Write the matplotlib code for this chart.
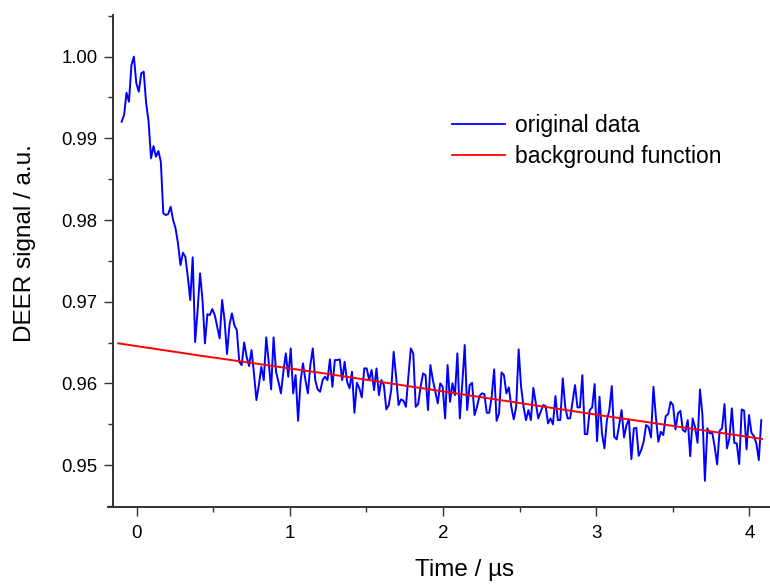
import numpy as np
import matplotlib
matplotlib.use("Agg")
import matplotlib.pyplot as plt
from matplotlib.ticker import MultipleLocator

# time axis of the measured trace (µs)
t_start = -0.098
t_step = 0.016

signal = [
    0.99203, 0.99285, 0.99558, 0.99448, 0.99898, 1.00000, 0.99674, 0.99571, 0.99796, 0.99816,
    0.99429, 0.99203, 0.98755, 0.98906, 0.98775, 0.98845, 0.98713, 0.98082, 0.98061, 0.98073,
    0.98162, 0.98000, 0.97898, 0.97714, 0.97448, 0.97599, 0.97550, 0.97305, 0.97020, 0.97543,
    0.96506, 0.96897, 0.97347, 0.97020, 0.96490, 0.96848, 0.96836, 0.96910, 0.96836, 0.96693,
    0.96551, 0.97020, 0.96775, 0.96359, 0.96714, 0.96857, 0.96714, 0.96652, 0.96264, 0.96224,
    0.96502, 0.96326, 0.96212, 0.96408, 0.96122, 0.95795, 0.95979, 0.96203, 0.96040, 0.96563,
    0.96264, 0.95926, 0.96563, 0.96142, 0.96019, 0.95877, 0.96142, 0.96367, 0.96081, 0.96428,
    0.95877, 0.96101, 0.95542, 0.96019, 0.96245, 0.96040, 0.95877, 0.96224, 0.96428, 0.96040,
    0.95926, 0.95897, 0.96040, 0.96081, 0.96040, 0.96294, 0.95958, 0.96285, 0.96285, 0.96294,
    0.96040, 0.96264, 0.96019, 0.95939, 0.96142, 0.95640, 0.96007, 0.95939, 0.95828, 0.96183,
    0.96183, 0.96040, 0.96163, 0.95918, 0.96183, 0.95856, 0.96040, 0.95979, 0.95681, 0.95734,
    0.95918, 0.96387, 0.96081, 0.95734, 0.95804, 0.95787, 0.95713, 0.96081, 0.96428, 0.96367,
    0.95713, 0.95746, 0.95958, 0.96122, 0.96101, 0.95673, 0.96224, 0.96040, 0.95897, 0.95755,
    0.96000, 0.95958, 0.95571, 0.96224, 0.95774, 0.96000, 0.95856, 0.96367, 0.95571, 0.96000,
    0.96469, 0.95673, 0.95979, 0.96007, 0.95612, 0.95713, 0.95844, 0.95877, 0.95869, 0.95640,
    0.95640, 0.95836, 0.96171, 0.95542, 0.95632, 0.96134, 0.96101, 0.95877, 0.95951, 0.95713,
    0.95559, 0.95713, 0.96416, 0.95958, 0.95713, 0.95550, 0.95673, 0.95550, 0.95946, 0.95755,
    0.95571, 0.95652, 0.95734, 0.95722, 0.95510, 0.95571, 0.95498, 0.95844, 0.95550, 0.95550,
    0.96061, 0.95713, 0.95571, 0.95571, 0.95774, 0.95979, 0.95706, 0.95706, 0.96101, 0.95379,
    0.95379, 0.95673, 0.95706, 0.95991, 0.95293, 0.95836, 0.95387, 0.95204, 0.95550, 0.95673,
    0.95967, 0.95346, 0.95314, 0.95489, 0.95673, 0.95338, 0.95489, 0.95559, 0.95073, 0.95449,
    0.95456, 0.95113, 0.95183, 0.95285, 0.95489, 0.95468, 0.95338, 0.95958, 0.95591, 0.95285,
    0.95407, 0.95367, 0.95599, 0.95624, 0.95774, 0.95734, 0.95436, 0.95632, 0.95664, 0.95428,
    0.95407, 0.95550, 0.95109, 0.95571, 0.95461, 0.95272, 0.95926, 0.95612, 0.94807, 0.95449,
    0.95387, 0.95395, 0.95223, 0.95008, 0.95419, 0.95449, 0.95746, 0.95204, 0.95326, 0.95694,
    0.95272, 0.95265, 0.95012, 0.95681, 0.95664, 0.95192, 0.95612, 0.95395, 0.95354, 0.95265,
    0.95060, 0.95550,
]

bg_time = [-0.12, 0.413, 1.197, 2.111, 3.025, 4.083]
bg_signal = [0.9649, 0.9634, 0.9613, 0.9587, 0.9561, 0.9532]

time = t_start + t_step * np.arange(len(signal))

fig = plt.figure(figsize=(7.7, 5.87), dpi=100)
ax = fig.add_axes([0.14714, 0.13680, 0.85286, 0.83765])

l1, = ax.plot(time, signal, color="#0000ff", lw=1.4, label="original data")
l2, = ax.plot(bg_time, bg_signal, color="#ff0000", lw=1.4, label="background function")

ax.set_xlim(-0.1524, 4.135)
ax.set_ylim(0.9449, 1.0051)

for s in ["top", "right"]:
    ax.spines[s].set_visible(False)
for s in ["left", "bottom"]:
    ax.spines[s].set_linewidth(1.4)
    ax.spines[s].set_color("#333333")
ax.spines["bottom"].set_bounds(-0.185, 4.135)

ax.xaxis.set_major_locator(MultipleLocator(1))
ax.xaxis.set_minor_locator(MultipleLocator(0.5))
ax.yaxis.set_major_locator(MultipleLocator(0.01))
ax.yaxis.set_minor_locator(MultipleLocator(0.005))
ax.yaxis.set_major_formatter(plt.FormatStrFormatter("%.2f"))

ax.tick_params(which="major", direction="out", length=6.5, width=1.0, color="#333333")
ax.tick_params(which="minor", direction="out", length=3.6, width=1.0, color="#333333")
ax.tick_params(axis="y", which="major", pad=5, labelsize=13.3)
ax.tick_params(axis="x", which="major", pad=7, labelsize=13.5)
for lab in ax.get_xticklabels() + ax.get_yticklabels():
    lab.set_family(["Liberation Sans", "DejaVu Sans"])

lab_font = ["Liberation Sans", "DejaVu Sans"]
ax.set_ylabel("DEER signal / a.u.", fontsize=17.5, family=lab_font)
ax.set_xlabel("Time / µs", fontsize=17.5, family=lab_font)
ax.yaxis.set_label_coords(-0.118, 0.536)
ax.xaxis.set_label_coords(0.5356, -0.106)

leg = ax.legend(handles=[l1, l2], loc="upper left", bbox_to_anchor=(0.587, 0.806),
                bbox_transform=fig.transFigure, frameon=False, borderpad=0,
                borderaxespad=0, handlelength=2.3, handletextpad=0.45, labelspacing=0.35,
                prop={"family": "Liberation Sans", "size": 16.5})
for line in leg.get_lines():
    line.set_linewidth(1.3)

fig.savefig("out.png", dpi=100)
